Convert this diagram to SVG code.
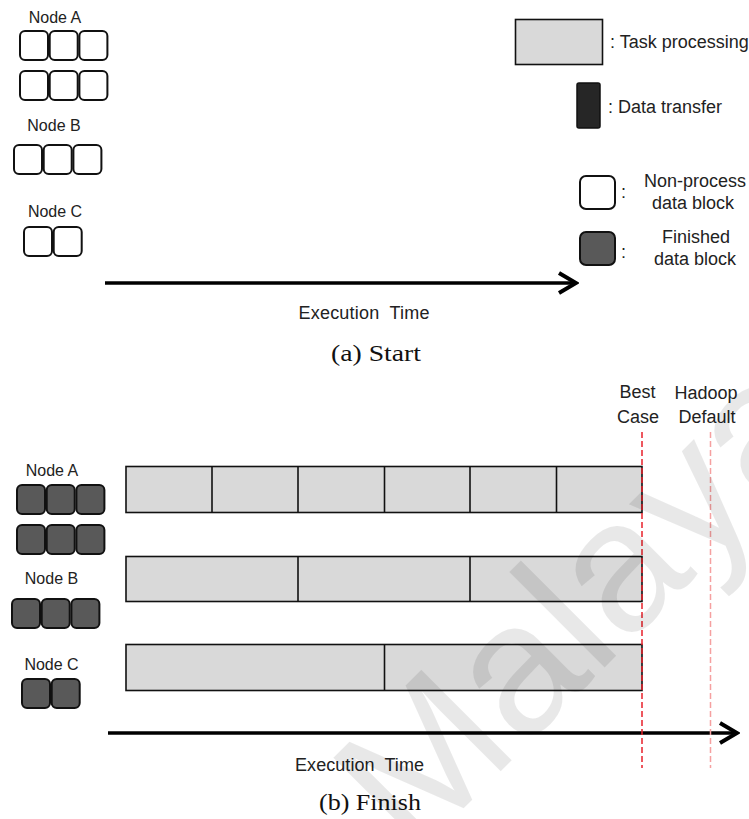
<svg xmlns="http://www.w3.org/2000/svg" width="749" height="819" viewBox="0 0 749 819">
<style>
.lbl{font-family:"Liberation Sans",Arial,sans-serif;fill:#222;}
.node{font-size:16px;text-anchor:middle;}
.leg{font-size:18px;}
.mid{text-anchor:middle;}
.cap{font-family:"Liberation Serif","Times New Roman",serif;font-size:23px;fill:#111;text-anchor:middle;}
.blk{fill:#fff;stroke:#111;stroke-width:2;}
.fin{fill:#595959;stroke:#111;stroke-width:2;}
.task{fill:#d9d9d9;stroke:#111;stroke-width:1.6;}
.div{stroke:#111;stroke-width:1.6;}
.axis{stroke:#000;stroke-width:3.5;fill:none;}
.best{stroke:#e8202a;stroke-width:1.5;stroke-dasharray:6 3;fill:none;}
.hadoop{stroke:#f5a0a0;stroke-width:1.5;stroke-dasharray:6 3;fill:none;}
</style>
<defs>
<marker id="head" viewBox="0 0 22 24" refX="19" refY="12" markerWidth="22" markerHeight="24" markerUnits="userSpaceOnUse" orient="auto">
<path d="M2,2 L19,12 L2,22" fill="none" stroke="#000" stroke-width="4"/>
</marker>
<g id="tri">
<rect x="0" y="0" width="28" height="29" rx="5"/>
<rect x="29.7" y="0" width="28" height="29" rx="5"/>
<rect x="59.4" y="0" width="28" height="29" rx="5"/>
</g>
<g id="duo">
<rect x="0" y="0" width="28" height="29" rx="5"/>
<rect x="29.7" y="0" width="28" height="29" rx="5"/>
</g>
</defs>
<rect width="749" height="819" fill="#fff"/>

<!-- (a) Start -->
<g id="a-nodeA">
<text class="lbl node" x="55" y="23">Node A</text>
<use href="#tri" class="blk" x="20" y="31"/>
<use href="#tri" class="blk" x="20" y="71"/>
</g>
<g id="a-nodeB">
<text class="lbl node" x="54" y="131">Node B</text>
<use href="#tri" class="blk" x="14" y="145"/>
</g>
<g id="a-nodeC">
<text class="lbl node" x="55" y="217">Node C</text>
<use href="#duo" class="blk" x="24" y="227"/>
</g>

<g id="legend">
<rect x="515.5" y="19.5" width="87" height="45" class="task"/>
<text class="lbl leg" x="610" y="48">: Task processing</text>
<rect x="577" y="83" width="23" height="45" rx="2" fill="#262626" stroke="#111" stroke-width="1.5"/>
<text class="lbl leg" x="608" y="113">: Data transfer</text>
<rect x="580" y="176" width="35" height="33" rx="6" class="blk"/>
<text class="lbl leg" x="621" y="198">:</text>
<text class="lbl leg mid" x="695" y="187">Non-process</text>
<text class="lbl leg mid" x="693" y="209">data block</text>
<rect x="580" y="232" width="35" height="33" rx="6" class="fin"/>
<text class="lbl leg" x="621" y="258">:</text>
<text class="lbl leg mid" x="696" y="243">Finished</text>
<text class="lbl leg mid" x="695" y="265">data block</text>
</g>

<text class="lbl leg mid" x="364" y="319" textLength="131" style="white-space:pre">Execution  Time</text>
<text class="cap" x="376" y="361" textLength="90" lengthAdjust="spacingAndGlyphs">(a) Start</text>

<!-- (b) Finish -->
<g id="b-nodeA">
<text class="lbl node" x="52" y="476">Node A</text>
<use href="#tri" class="fin" x="17" y="485"/>
<use href="#tri" class="fin" x="17" y="525"/>
</g>
<g id="b-nodeB">
<text class="lbl node" x="51.5" y="584">Node B</text>
<use href="#tri" class="fin" x="12" y="599"/>
</g>
<g id="b-nodeC">
<text class="lbl node" x="51.5" y="670">Node C</text>
<use href="#duo" class="fin" x="22" y="679"/>
</g>

<g id="barA">
<rect x="126" y="466.5" width="516" height="46" class="task"/>
<line class="div" x1="212" y1="466.5" x2="212" y2="512.5"/>
<line class="div" x1="298" y1="466.5" x2="298" y2="512.5"/>
<line class="div" x1="384.5" y1="466.5" x2="384.5" y2="512.5"/>
<line class="div" x1="470" y1="466.5" x2="470" y2="512.5"/>
<line class="div" x1="556.5" y1="466.5" x2="556.5" y2="512.5"/>
</g>
<g id="barB">
<rect x="126" y="556.5" width="516" height="45" class="task"/>
<line class="div" x1="298" y1="556.5" x2="298" y2="601.5"/>
<line class="div" x1="470" y1="556.5" x2="470" y2="601.5"/>
</g>
<g id="barC">
<rect x="126" y="644.5" width="516" height="46" class="task"/>
<line class="div" x1="384.5" y1="644.5" x2="384.5" y2="690.5"/>
</g>

<g id="markers-labels">
<text class="lbl leg mid" x="637.5" y="398">Best</text>
<text class="lbl leg mid" x="638" y="423">Case</text>
<text class="lbl leg mid" x="706" y="399">Hadoop</text>
<text class="lbl leg mid" x="707" y="423">Default</text>
</g>

<g id="connectors">
<line class="axis" x1="105" y1="283" x2="576" y2="283" marker-end="url(#head)"/>
<line class="axis" x1="108" y1="733" x2="737" y2="733" marker-end="url(#head)"/>
<line class="best" x1="642" y1="432" x2="642" y2="768"/>
<line class="hadoop" x1="710.5" y1="432" x2="710.5" y2="768"/>
</g>

<text class="lbl leg mid" x="359.5" y="771" textLength="129" style="white-space:pre">Execution  Time</text>
<text class="cap" x="370" y="810" textLength="102" lengthAdjust="spacingAndGlyphs">(b) Finish</text>

<text x="413" y="859" transform="rotate(-45 413 859)" font-family="Liberation Sans, Arial, sans-serif" font-size="186" fill="#000" fill-opacity="0.09">Malaya</text>
</svg>
